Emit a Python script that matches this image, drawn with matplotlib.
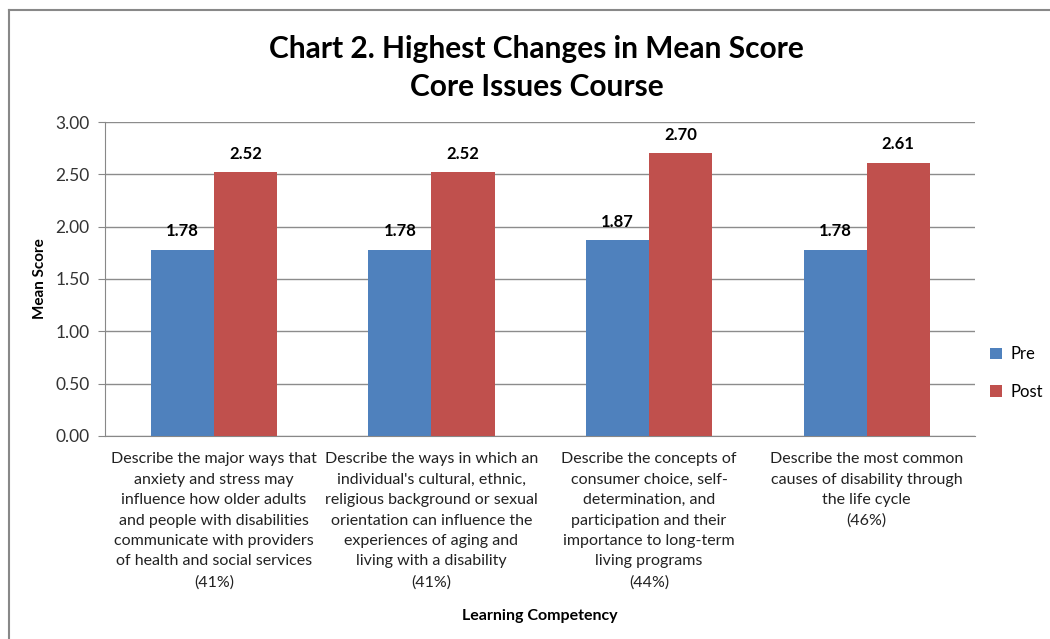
import numpy as np
import matplotlib.pyplot as plt
from matplotlib.lines import Line2D

plt.rcParams['font.family'] = ['Lato', 'DejaVu Sans']

# data
categories = [
    "Describe the major ways that\nanxiety and stress may\ninfluence how older adults\nand people with disabilities\ncommunicate with providers\nof health and social services\n(41%)",
    "Describe the ways in which an\nindividual's cultural, ethnic,\nreligious background or sexual\norientation can influence the\nexperiences of aging and\nliving with a disability\n(41%)",
    "Describe the concepts of\nconsumer choice, self-\ndetermination, and\nparticipation and their\nimportance to long-term\nliving programs\n(44%)",
    "Describe the most common\ncauses of disability through\nthe life cycle\n(46%)",
]
pre = [1.78, 1.78, 1.87, 1.78]
post = [2.52, 2.52, 2.70, 2.61]
yticks = [0.0, 0.5, 1.0, 1.5, 2.0, 2.5, 3.0]

fig = plt.figure(figsize=(10.5, 6.39), dpi=100)
ax = fig.add_axes([0.1, 0.318, 0.829, 0.491])

x = np.arange(len(categories))
w = 0.29
b1 = ax.bar(x - w / 2, pre, w, color='#4F81BD', label='Pre', zorder=3)
b2 = ax.bar(x + w / 2, post, w, color='#C0504D', label='Post', zorder=3)

for bars, vals in ((b1, pre), (b2, post)):
    for r, v in zip(bars, vals):
        ax.text(r.get_x() + r.get_width() / 2, v + 0.1, "{:0.2f}".format(v),
                ha='center', va='bottom', fontsize=12, fontweight='bold')

ax.set_xlim(-0.5, len(categories) - 0.5)
ax.set_ylim(0, 3.0)
ax.set_yticks(yticks)
ax.set_yticklabels(["{:0.2f}".format(t) for t in yticks], fontsize=12.5, color='#333333')
ax.set_xticks(x)
ax.set_xticklabels(categories, fontsize=11.5, linespacing=1.58, color='#222222')
ax.tick_params(axis='x', length=0, pad=12)
ax.tick_params(axis='y', length=5, color='#888888', pad=6)
ax.yaxis.grid(True, color='#8c8c8c', linewidth=1, zorder=0)
for s in ['top', 'right']:
    ax.spines[s].set_visible(False)
ax.spines['left'].set_color('#888888')
ax.spines['bottom'].set_color('#888888')

ax.set_ylabel('Mean Score', fontsize=11, fontweight='bold', labelpad=6)
fig.text(0.514, 0.03, 'Learning Competency', ha='center', fontsize=11.5, fontweight='bold')
fig.text(0.511, 0.945, 'Chart 2. Highest Changes in Mean Score\nCore Issues Course',
         ha='center', va='top', fontsize=21.5, fontweight='bold', linespacing=1.42)

ax.legend(loc='center left', bbox_to_anchor=(1.0, 0.2), frameon=False,
          fontsize=12, handlelength=0.7, handleheight=0.7, labelspacing=1.3,
          handletextpad=0.5)

# outer chart border (only top and left edge visible)
fig.add_artist(Line2D([9 / 1050, 1.0], [1 - 10 / 639, 1 - 10 / 639],
                      transform=fig.transFigure, color='#888888', linewidth=1.5))
fig.add_artist(Line2D([9 / 1050, 9 / 1050], [0, 1 - 10 / 639],
                      transform=fig.transFigure, color='#888888', linewidth=1.5))

fig.savefig('out.png', dpi=100)
